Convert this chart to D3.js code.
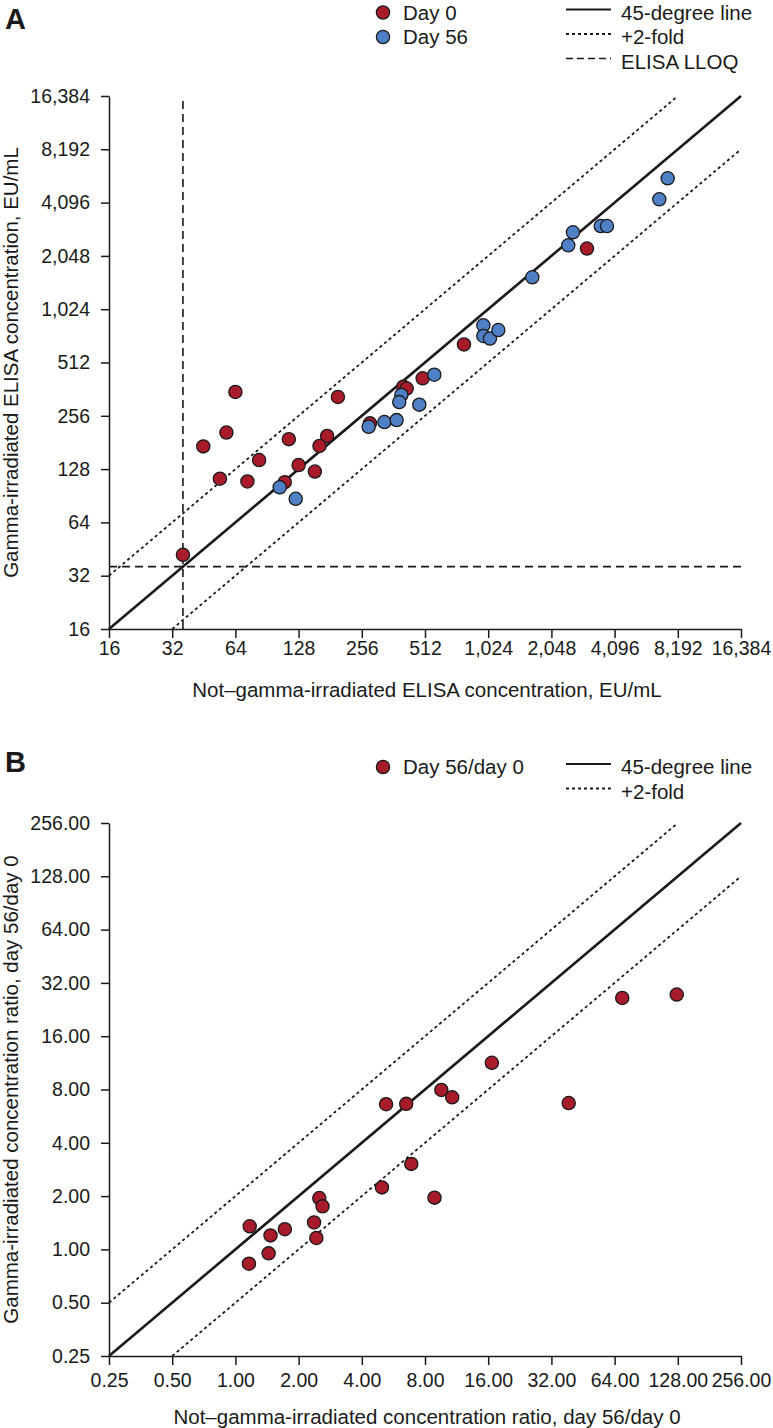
<!DOCTYPE html>
<html>
<head>
<meta charset="utf-8">
<script src="https://cdn.jsdelivr.net/npm/d3@7"></script>
<style>
  html, body { margin: 0; padding: 0; background: #fff; }
  svg text { font-family: "Liberation Sans", Arial, sans-serif; fill: #1a1a1a; }
</style>
</head>
<body>
<svg id="chart" width="773" height="1428"></svg>
<script>
// ---------- DATA ----------
// Panel A: ELISA concentrations (EU/mL)
const ticksA = [16, 32, 64, 128, 256, 512, 1024, 2048, 4096, 8192, 16384];
const day0X  = [64, 58, 45, 115, 197, 175, 161, 83, 128, 54, 73, 153, 110, 280, 404, 419, 499, 785, 3025, 36];
const day0Y  = [349, 206, 172, 189, 327, 197, 173, 144, 135, 113, 109, 124, 108, 232, 374, 365, 417, 648, 2253, 42];
const day56X = [104, 124, 276, 328, 375, 395, 386, 481, 567, 971, 971, 1044, 1144, 1661, 2464, 2595, 3517, 3768, 6688, 7330];
const day56Y = [101, 87, 222, 236, 242, 336, 306, 296, 437, 831, 723, 699, 781, 1551, 2351, 2784, 3021, 3021, 4277, 5619];
const lloq = 36;

// Panel B: day 56 / day 0 ratios
const ticksB = [0.25, 0.5, 1, 2, 4, 8, 16, 32, 64, 128, 256];
const ratioX = [1.17, 1.47, 1.72, 2.37, 2.43, 1.44, 1.16, 2.51, 2.60, 4.99, 8.88, 6.88, 5.22, 6.51, 9.57, 10.78, 16.65, 38.7, 69.6, 126.5];
const ratioY = [1.35, 1.20, 1.30, 1.42, 1.16, 0.95, 0.83, 1.95, 1.75, 2.24, 1.96, 3.04, 6.61, 6.64, 7.95, 7.23, 11.32, 6.71, 26.3, 27.5];

const legendA = ["Day 0", "Day 56"];
const legendLinesA = ["45-degree line", "+2-fold", "ELISA LLOQ"];
const legendB = ["Day 56/day 0"];
const legendLinesB = ["45-degree line", "+2-fold"];

// ---------- STYLE ----------
const RED = "#A81B2B", BLUE = "#4F80C6", INK = "#1a1a1a";
const R = 6.6;
const TICK_FS = 19.5, LEG_FS = 20.5, TITLE_FS = 20.5;
const svg = d3.select("#chart");

function panel(cfg) {
  const x = d3.scaleLog().base(2).domain(cfg.domain).range([109, 741]);
  const y = d3.scaleLog().base(2).domain(cfg.domain).range([cfg.bottom, cfg.top]);
  const g = svg.append("g");

  // axes
  const xa = g.append("g").attr("transform", `translate(0,${cfg.bottom})`)
    .call(d3.axisBottom(x).tickValues(cfg.ticks).tickFormat(cfg.fmt).tickSize(9).tickSizeOuter(0).tickPadding(cfg.xPad));
  const ya = g.append("g").attr("transform", `translate(109,0)`)
    .call(d3.axisLeft(y).tickValues(cfg.ticks).tickFormat(cfg.fmt).tickSize(8).tickSizeOuter(0).tickPadding(11));
  [xa, ya].forEach(a => {
    a.select(".domain").attr("stroke", INK).attr("stroke-width", 1.5);
    a.selectAll(".tick line").attr("stroke", INK).attr("stroke-width", 1.5);
    a.selectAll(".tick text").attr("font-size", TICK_FS).attr("fill", INK)
      .attr("font-family", "Liberation Sans, Arial, sans-serif");
  });

  // reference lines
  const lo = cfg.domain[0], hi = cfg.domain[1];
  const line = d3.line().x(d => x(d[0])).y(d => y(d[1]));
  g.append("path").attr("d", line([[lo, lo * 2], [hi / 2, hi]]))
    .attr("stroke", INK).attr("stroke-width", 1.8).attr("stroke-dasharray", "3,3").attr("fill", "none");
  g.append("path").attr("d", line([[lo * 2, lo], [hi, hi / 2]]))
    .attr("stroke", INK).attr("stroke-width", 1.8).attr("stroke-dasharray", "3,3").attr("fill", "none");
  if (cfg.lloq) {
    g.append("path").attr("d", line([[cfg.lloq, lo], [cfg.lloq, hi]]))
      .attr("stroke", INK).attr("stroke-width", 1.6).attr("stroke-dasharray", "8,5").attr("fill", "none");
    g.append("path").attr("d", line([[lo, cfg.lloq], [hi, cfg.lloq]]))
      .attr("stroke", INK).attr("stroke-width", 1.6).attr("stroke-dasharray", "8,5").attr("fill", "none");
  }
  g.append("path").attr("d", line([[lo, lo], [hi, hi]]))
    .attr("stroke", INK).attr("stroke-width", 2.6).attr("fill", "none");

  // points
  cfg.series.forEach(s => {
    g.append("g").selectAll("circle").data(d3.zip(s.x, s.y)).join("circle")
      .attr("cx", d => x(d[0])).attr("cy", d => y(d[1])).attr("r", R)
      .attr("fill", s.color).attr("stroke", INK).attr("stroke-width", 1.3);
  });

  // axis titles
  g.append("text").attr("x", 427).attr("y", cfg.bottom + 61).attr("dy", "0.35em")
    .attr("text-anchor", "middle").attr("font-size", TITLE_FS).text(cfg.xTitle);
  g.append("text").attr("transform", `translate(11,${(cfg.top + cfg.bottom) / 2}) rotate(-90)`)
    .attr("dy", "0.35em").attr("text-anchor", "middle").attr("font-size", TITLE_FS).text(cfg.yTitle);

  // panel letter
  g.append("text").attr("x", 5).attr("y", cfg.letterY).attr("dy", "0.35em")
    .attr("font-size", 29).attr("font-weight", "bold").text(cfg.letter);

  // legend: markers
  cfg.legend.forEach((lab, i) => {
    const yy = cfg.legY + i * 24.5;
    g.append("circle").attr("cx", 383).attr("cy", yy).attr("r", R)
      .attr("fill", cfg.series[i].color).attr("stroke", INK).attr("stroke-width", 1.3);
    g.append("text").attr("x", 403).attr("y", yy).attr("dy", "0.35em").attr("font-size", LEG_FS).text(lab);
  });
  // legend: lines
  const styles = [{w: 2, d: null}, {w: 1.8, d: "3,3"}, {w: 1.6, d: "7,4"}];
  cfg.legendLines.forEach((lab, i) => {
    const yy = cfg.legY + i * 24.5;
    const p = g.append("line").attr("x1", 566).attr("x2", 611).attr("y1", yy - 3).attr("y2", yy - 3)
      .attr("stroke", INK).attr("stroke-width", styles[i].w);
    if (styles[i].d) p.attr("stroke-dasharray", styles[i].d);
    g.append("text").attr("x", 621).attr("y", yy).attr("dy", "0.35em").attr("font-size", LEG_FS).text(lab);
  });
}

panel({
  domain: [16, 16384], ticks: ticksA, fmt: d3.format(","),
  top: 96, bottom: 629, lloq: lloq, xPad: 3,
  series: [{x: day0X, y: day0Y, color: RED}, {x: day56X, y: day56Y, color: BLUE}],
  xTitle: "Not\u2013gamma-irradiated ELISA concentration, EU/mL",
  yTitle: "Gamma-irradiated ELISA concentration, EU/mL",
  letter: "A", letterY: 19, legY: 12.5,
  legend: legendA, legendLines: legendLinesA
});

panel({
  domain: [0.25, 256], ticks: ticksB, fmt: d3.format(".2f"),
  top: 823, bottom: 1356, lloq: null, xPad: 8,
  series: [{x: ratioX, y: ratioY, color: RED}],
  xTitle: "Not\u2013gamma-irradiated concentration ratio, day 56/day 0",
  yTitle: "Gamma-irradiated concentration ratio, day 56/day 0",
  letter: "B", letterY: 762, legY: 767,
  legend: legendB, legendLines: legendLinesB
});
</script>
</body>
</html>
